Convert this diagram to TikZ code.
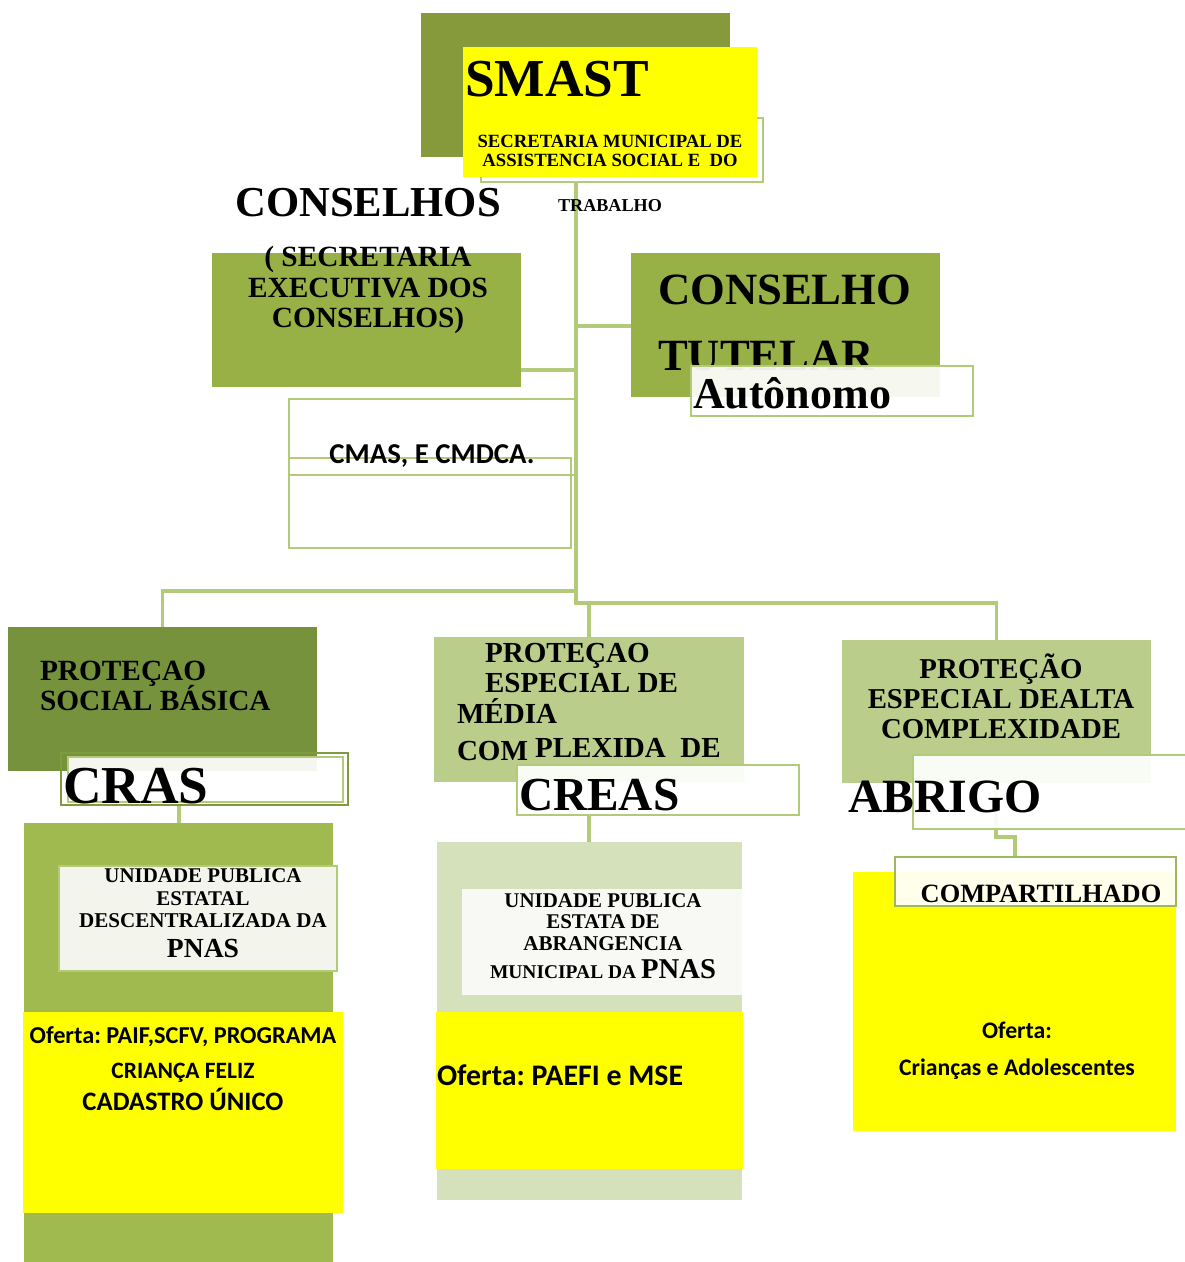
\documentclass[tikz,border=0pt]{standalone}
\usepackage{fontspec}
\setmainfont{Liberation Serif}
\newfontfamily\carl{Carlito}
\usetikzlibrary{fit,backgrounds}
\definecolor{olivemd}{HTML}{869A3C}
\definecolor{olivedk}{HTML}{76923C}
\definecolor{olivedkb}{HTML}{7F9B3D}
\definecolor{greenmd}{HTML}{97B147}
\definecolor{greencr}{HTML}{A0BA50}
\definecolor{greenlt}{HTML}{BACD8A}
\definecolor{greenvl}{HTML}{D5E1BA}
\definecolor{whitish}{HTML}{F3F4EC}
\definecolor{whitishb}{HTML}{F8F9F5}
\definecolor{yel}{HTML}{FFFF00}
\definecolor{lineg}{HTML}{B3CB78}
\definecolor{olivol}{HTML}{9DB95C}
\tikzset{
  bx/.style={inner sep=0pt, outer sep=0pt},
  ol/.style={draw=lineg, line width=1.6pt, inner sep=0pt, outer sep=0pt},
  lbl/.style={ol, fill=white, fill opacity=0.92},
  ln/.style={draw=lineg, line width=2.3pt},
  tx/.style={inner sep=0pt, outer sep=0pt, font=\bfseries\frenchspacing},
  txl/.style={tx, anchor=base west},
  txc/.style={tx, anchor=base},
}
\newcommand{\fs}[1]{\fontsize{#1}{#1}\selectfont}
\begin{document}
\frenchspacing
\begin{tikzpicture}[x=0.75pt,y=-0.75pt]
\useasboundingbox (0,0) rectangle (1184,1262);
\begin{scope}[on background layer]
\fill[white] (0,0) rectangle (1184,1262);
\end{scope}

% ---------- SMAST ----------
\node[bx, fill=olivemd, fit={(421,13)(730,157)}] (smastbg) {};
\node[ol, fit={(481,118)(763,182)}] (smastol) {};
\node[bx, fill=yel, fit={(463,47)(757,177)}] (smast) {};
\node[txl] (tsmast) at (465,97) {\fs{40}SMAST};
\node[txc] (tsec1) at (610,148) {\fs{14}SECRETARIA MUNICIPAL DE};
\node[txc] (tsec2) at (610,167) {\fs{14}ASSISTENCIA SOCIAL E\ \ DO};
\node[txc] (tsec3) at (610,212) {\fs{13.6}TRABALHO};

% ---------- CONSELHOS ----------
\node[txc] (tconsT) at (368,217) {\fs{32}CONSELHOS};
\node[bx, fill=greenmd, fit={(212,253)(521,387)}] (consbox) {};
\node[txc] (tcons1) at (368,267) {\fs{22}( SECRETARIA};
\node[txc] (tcons2) at (368,297) {\fs{22}EXECUTIVA DOS};
\node[txc] (tcons3) at (368,327) {\fs{22}CONSELHOS)};

% ---------- CONSELHO TUTELAR ----------
\node[bx, fill=greenmd, fit={(631,253)(940,397)}] (tutbox) {};
\node[txl] (ttut1) at (658,305) {\fs{33.5}CONSELHO};
\node[txl] (ttut2) at (658,370) {\fs{33.5}TUTELAR};
\node[lbl, fit={(691,366)(973,416)}] (autbox) {};
\node[txl] (taut) at (693,408) {\fs{33}Autônomo};

% ---------- CMAS ----------
\node[ol, fit={(289,399)(576,475)}] (cmas1) {};
\node[ol, fit={(289,458)(571,548)}] (cmas2) {};
\node[txc] (tcmas) at (432,463) {\carl\fs{21.6}CMAS, E CMDCA.};

% ---------- PROTECAO SOCIAL BASICA ----------
\node[bx, fill=olivedk, fit={(8,627)(317,771)}] (psb) {};
\node[txl] (tpsb1) at (40,680) {\fs{22}PROTEÇAO};
\node[txl] (tpsb2) at (40,710) {\fs{22}SOCIAL BÁSICA};
\node[draw=olivedkb, line width=1.6pt, inner sep=0pt, outer sep=0pt, fit={(61,753)(348,805)}] (crasol) {};
\node[lbl, fit={(68,757)(343,802)}] (craslbl) {};
\node[txl] (tcras) at (63,803) {\fs{40}CRAS};

% ---------- CREAS ----------
\node[bx, fill=greenlt, fit={(434,637)(744,782)}] (creasbox) {};
\node[txl] (tcr1) at (485,662) {\fs{21.8}PROTEÇAO};
\node[txl] (tcr2) at (485,692) {\fs{21.8}ESPECIAL DE};
\node[txl] (tcr3) at (457,723) {\fs{21.8}MÉDIA};
\node[txl] (tcr4) at (457,760) {\fs{21.8}COM};
\node[txl] (tcr5) at (535,757) {\fs{21.8}PLEXIDA\ \ DE};
\node[lbl, fit={(517,765)(799,815)}] (creaslbl) {};
\node[txl] (tcreas) at (519,810) {\fs{35.5}CREAS};

% ---------- ABRIGO ----------
\node[bx, fill=greenlt, fit={(842,640)(1151,783)}] (abrbox) {};
\node[txc] (tab1) at (1001,678) {\fs{21.6}PROTEÇÃO};
\node[txc] (tab2) at (1001,708) {\fs{21.6}ESPECIAL DEALTA};
\node[txc] (tab3) at (1001,738) {\fs{21.6}COMPLEXIDADE};
\node[lbl, fit={(913,755)(1192,829)}] (abrlbl) {};
\node[txl] (tabrigo) at (848,812) {\fs{35.8}ABRIGO};

% ---------- CRAS column ----------
\node[bx, fill=greencr, fit={(24,823)(333,1264)}] (crascol) {};
\node[draw=lineg, line width=1pt, fill=whitish, inner sep=0pt, outer sep=0pt, fit={(59,866)(337,971)}] (crasun) {};
\node[txc] (tcu1) at (203,882) {\fs{15.7}UNIDADE PUBLICA};
\node[txc] (tcu2) at (203,905) {\fs{15.7}ESTATAL};
\node[txc] (tcu3) at (203,927) {\fs{15.8}DESCENTRALIZADA DA};
\node[txc] (tcu4) at (203,957) {\fs{20.7}PNAS};
\node[bx, fill=yel, fit={(23,1012)(343,1213)}] (crasof) {};
\node[txc] (tco1) at (183,1043) {\carl\fs{18.2}Oferta: PAIF,SCFV, PROGRAMA};
\node[txc] (tco2) at (183,1078) {\carl\fs{17.6}CRIANÇA FELIZ};
\node[txc] (tco3) at (183,1110) {\carl\fs{20}CADASTRO ÚNICO};

% ---------- CREAS column ----------
\node[bx, fill=greenvl, fit={(437,842)(742,1200)}] (creascol) {};
\node[bx, fill=whitishb, fit={(462,889)(742,995)}] (creasun) {};
\node[txc] (teu1) at (603,907) {\fs{15.7}UNIDADE PUBLICA};
\node[txc] (teu2) at (603,928) {\fs{15.7}ESTATA DE};
\node[txc] (teu3) at (603,950) {\fs{15.8}ABRANGENCIA};
\node[txc] (teu4) at (603,978) {\fs{14.6}MUNICIPAL DA \fs{21.5}PNAS};
\node[bx, fill=yel, fit={(436,1012)(743,1169)}] (creasof) {};
\node[txl] (teo) at (437,1085) {\carl\fs{22.4}Oferta: PAEFI e MSE};

% ---------- ABRIGO column ----------
\node[bx, fill=yel, fit={(853,872)(1176,1131)}] (abrof) {};
\node[draw=olivol, line width=1.6pt, fill=white, fill opacity=0.92, inner sep=0pt, outer sep=0pt, fit={(895,857)(1176,906)}] (compbox) {};
\node[txc] (tcomp) at (1041,902) {\fs{19.8}COMPARTILHADO};
\node[txc] (tao1) at (1017,1038) {\carl\fs{17.8}Oferta:};
\node[txc] (tao2) at (1017,1075) {\carl\fs{17.8}Crianças e Adolescentes};

% ---------- connectors ----------
\coordinate (jA) at (576,591);
\coordinate (jB) at (576,603);
\coordinate (jC) at (589,603);
\coordinate (jF) at (576,370);
\coordinate (jG) at (576,326);
\coordinate (jH) at (179,805);
\coordinate (jD) at (996,837);
\coordinate (jE) at (1015,837);
\begin{scope}[on background layer]
\draw[ln] (smastol.south -| jA) -- (jB) -- (jC) -- (creasbox.north -| jC);
\draw[ln] (jC) -| (abrbox.north);
\draw[ln] (jA) -| (psb.north);
\draw[ln] (jF) -- (consbox.east |- jF);
\draw[ln] (jG) -- (tutbox.west |- jG);
\draw[ln] (crasol.south -| jH) -- (crascol.north -| jH);
\draw[ln] (creaslbl.south -| jC) -- (creascol.north -| jC);
\draw[ln] (abrbox.south -| jD) -- (jD) -- (jE) -- (compbox.north -| jE);
\end{scope}
\end{tikzpicture}
\end{document}
